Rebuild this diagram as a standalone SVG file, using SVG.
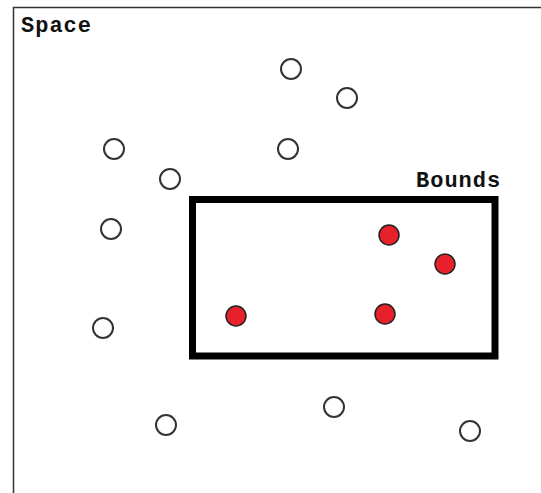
<svg xmlns="http://www.w3.org/2000/svg" width="541" height="493" viewBox="0 0 541 493">
<style>
.lbl{font-family:"Liberation Mono","DejaVu Sans Mono",monospace;font-weight:bold;font-size:22px;fill:#111;letter-spacing:1px}
.pt{fill:#fff;stroke:#333;stroke-width:2}
.in{fill:#e8202a;stroke:#222;stroke-width:1.5}
</style>
<rect width="541" height="493" fill="#fff"/>
<g id="space">
<path d="M13.5 493 V7.5 H541" fill="none" stroke="#333" stroke-width="1.5"/>
<text class="lbl" x="21" y="32">Space</text>
</g>
<g id="bounds">
<rect x="192.5" y="199.5" width="302.5" height="156.5" fill="none" stroke="#000" stroke-width="7"/>
<text class="lbl" x="416" y="187">Bounds</text>
</g>
<g id="points">
<circle class="pt" cx="291" cy="69" r="10"/>
<circle class="pt" cx="347" cy="98" r="10"/>
<circle class="pt" cx="114" cy="149" r="10"/>
<circle class="pt" cx="288" cy="149" r="10"/>
<circle class="pt" cx="170" cy="179" r="10"/>
<circle class="pt" cx="111" cy="229" r="10"/>
<circle class="pt" cx="103" cy="328" r="10"/>
<circle class="pt" cx="166" cy="425" r="10"/>
<circle class="pt" cx="334" cy="407" r="10"/>
<circle class="pt" cx="470" cy="431" r="10"/>
</g>
<g id="inside">
<circle class="in" cx="389" cy="235" r="10"/>
<circle class="in" cx="445" cy="264" r="10"/>
<circle class="in" cx="236" cy="316" r="10"/>
<circle class="in" cx="385" cy="314" r="10"/>
</g>
</svg>
